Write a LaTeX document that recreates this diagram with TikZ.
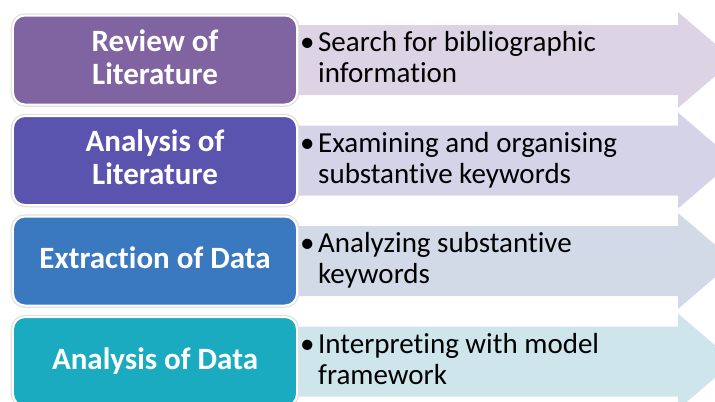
\documentclass[tikz,border=0pt]{standalone}
\usepackage{fontspec}
\setmainfont{Carlito}[Ligatures=NoCommon]
\usetikzlibrary{positioning}

\definecolor{reviewcol}{HTML}{8064A2}
\definecolor{litcol}{HTML}{5A54AE}
\definecolor{extractcol}{HTML}{3A79BF}
\definecolor{datacol}{HTML}{1AABC1}
\definecolor{reviewarr}{HTML}{DCD4E4}
\definecolor{litarr}{HTML}{D5D3E8}
\definecolor{extractarr}{HTML}{D2DAE8}
\definecolor{dataarr}{HTML}{CDE5EB}

\newcommand{\bulletpt}[2]{\begin{tabular}{@{}p{18bp}@{}l@{}}\textbullet & #1\\ & #2\end{tabular}}

\tikzset{
  stagebox/.style={rounded corners=12bp, draw=white, line width=2bp,
    preaction={draw=black!12, line width=4.5bp},
    minimum width=284bp, minimum height=89bp, inner sep=0pt, outer sep=0pt,
    text depth=6bp,
    text=white, align=center, font=\fontsize{31bp}{33bp}\selectfont\bfseries},
  bullettext/.style={inner sep=0pt, yshift=-1bp, font=\fontsize{29bp}{31bp}\selectfont}
}

\begin{document}
\begin{tikzpicture}[x=1bp,y=-1bp]
  \useasboundingbox (0,0) rectangle (715,401);
  \clip (0,0) rectangle (715,401);
  % arrows behind the stages
  \foreach \y/\col in {60/reviewarr, 160.5/litarr, 261/extractarr, 361.5/dataarr}
   {\fill [\col] (290,\y-35) -- (678,\y-35) -- (678,\y-48) -- (734,\y)
       -- (678,\y+48) -- (678,\y+35) -- (290,\y+35) -- cycle;
   };
  % stages
  \node [stagebox, fill=reviewcol] (review) at (155,60) {Review of\\Literature};
  \node [stagebox, fill=litcol, below=11.5bp of review] (litanalysis) {Analysis of\\Literature};
  \node [stagebox, fill=extractcol, below=11.5bp of litanalysis] (extract) {Extraction of Data};
  \node [stagebox, fill=datacol, below=11.5bp of extract] (dataanalysis) {Analysis of Data};
  % bullet texts
  \node [bullettext, right=3bp of review] (reviewtxt)
    {\bulletpt{Search for bibliographic}{information}};
  \node [bullettext, right=3bp of litanalysis] (littxt)
    {\bulletpt{Examining and organising}{substantive keywords}};
  \node [bullettext, right=3bp of extract] (extracttxt)
    {\bulletpt{Analyzing substantive}{keywords}};
  \node [bullettext, right=3bp of dataanalysis] (datatxt)
    {\bulletpt{Interpreting with model}{framework}};
\end{tikzpicture}
\end{document}
